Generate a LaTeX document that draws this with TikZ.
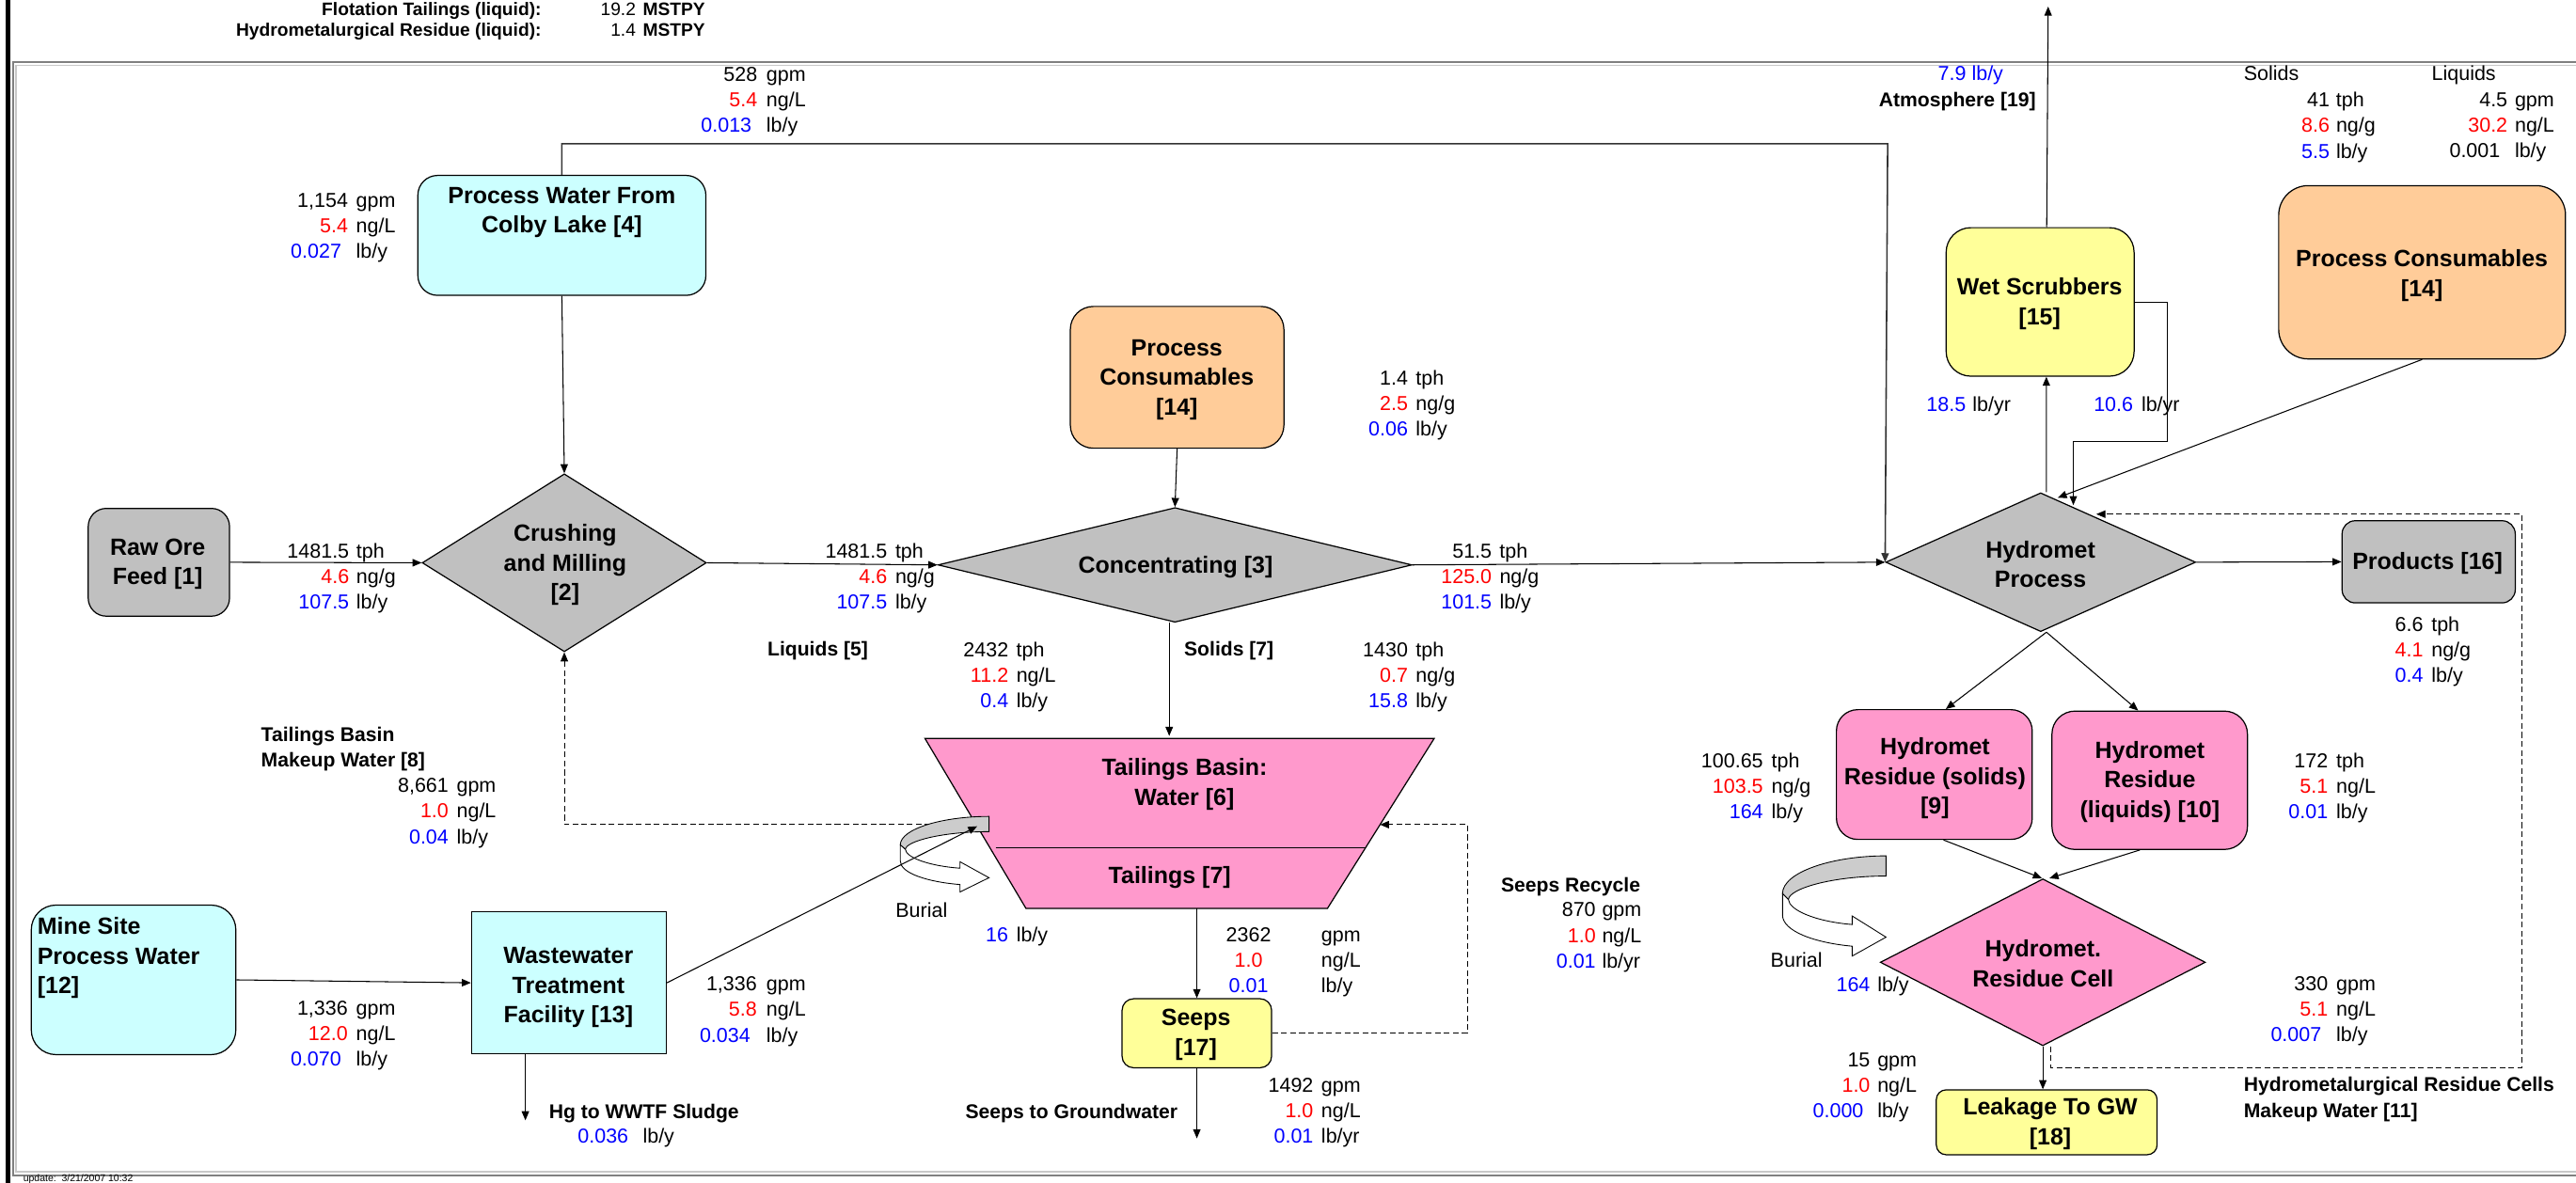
\documentclass[tikz,border=0pt]{standalone}
\usepackage{fontspec}
\setmainfont{Liberation Sans}
\usetikzlibrary{arrows.meta,shapes.geometric}
\definecolor{vred}{RGB}{255,0,0}
\definecolor{vblue}{RGB}{0,0,255}
\definecolor{cyanbox}{RGB}{204,255,255}
\definecolor{graybox}{RGB}{192,192,192}
\definecolor{peach}{RGB}{255,204,153}
\definecolor{pinkbox}{RGB}{255,153,204}
\definecolor{yelbox}{RGB}{255,255,153}
\definecolor{framedark}{RGB}{128,128,128}
\definecolor{framelight}{RGB}{200,200,200}
\newcommand\R[1]{\textcolor{vred}{#1}}
\newcommand\B[1]{\textcolor{vblue}{#1}}
\newcommand\qrow[3]{\makebox[0pt][r]{#2}\hspace{#1pt}\makebox[0pt][l]{#3}}
\newcommand\crow[3]{\makebox[0pt][c]{#2}\hspace{#1pt}\makebox[0pt][l]{#3}}
\newcommand\qblk[7]{\qrow{#1}{#2}{#3}\\\qrow{#1}{\R{#4}}{#5}\\\qrow{#1}{\B{#6}}{#7}}
\newcommand\fnum{\fontsize{12.3}{15.5}\selectfont}
\newcommand\fbig{\fontsize{14.3}{18}\selectfont\bfseries}
\newcommand\fsml{\fontsize{12.1}{16}\selectfont\bfseries}
\newcommand\fhead{\fontsize{11}{13}\selectfont\bfseries}
\newcommand\burialshape{%
  \filldraw[fill=gray!40, line width=0.5pt] (63,0) .. controls (30,0) and (0,10) .. (0,23)
     -- (3.6,26.6) .. controls (4,20) and (30,12.3) .. (63,12.3) -- cycle;
  \filldraw[fill=white, line width=0.5pt] (0,23) -- (0,36) .. controls (0,46) and (20,53) .. (42.4,55)
     -- (42.4,61) -- (63,49.5) -- (42.4,36.6) -- (42.4,41.8)
     .. controls (20,40) and (4,33) .. (3.6,26.6) -- cycle;}
\tikzset{
  box/.style={draw, line width=0.7pt, rounded corners=#1, inner sep=0pt},
  dia/.style={draw, diamond, line width=0.7pt, inner sep=0pt},
  lbl/.style={font=\fbig, align=center, inner sep=0pt},
  num/.style={font=\fnum, align=left, inner sep=0pt},
  sl/.style={font=\fsml, align=left, inner sep=0pt},
  arr/.style={-{Triangle[length=5.5pt,width=4.5pt]}, line width=0.6pt},
  dsh/.style={dash pattern=on 3.5pt off 2pt, line width=0.6pt},
}
\begin{document}
\begin{tikzpicture}[x=1pt,y=-1pt]
\useasboundingbox (0,0) rectangle (1568,720);
% frame
\draw[line width=2.9pt] (5.1,-5) -- (5.1,725);
\draw[framedark, line width=1.1pt] (1590,37.8) -- (7.8,37.8) -- (7.8,715.4) -- (1590,715.4);
\draw[framelight, line width=1.1pt] (1590,39.8) -- (9.8,39.8) -- (9.8,713.4) -- (1590,713.4);
% header
\node[sl, font=\fhead, anchor=base east] (h1) at (329.7,9.2) {Flotation Tailings (liquid):};
\node[sl, font=\fhead, anchor=base east] (h2) at (329.7,21.8) {Hydrometalurgical Residue (liquid):};
\node[anchor=base, inner sep=0pt, font=\fontsize{11}{13}\selectfont] (h1v) at (389.15,9.2) {\qrow{4.3}{19.2}{\textbf{MSTPY}}};
\node[anchor=base, inner sep=0pt, font=\fontsize{11}{13}\selectfont] (h2v) at (389.15,21.8) {\qrow{4.3}{1.4}{\textbf{MSTPY}}};
\node[anchor=base west, inner sep=0pt, font=\fontsize{6}{7}\selectfont] (upd) at (14,719.5) {update:\ \ 3/21/2007 10:32};

% boxes
\node[box=12, fill=cyanbox, minimum width=175.3pt, minimum height=73pt] (pw) at (342,143.3) {};
\node[lbl] (pwt) at (342,129.3) {Process Water From\\Colby Lake [4]};
\node[box=11, fill=graybox, minimum width=86pt, minimum height=65.6pt] (raw) at (96.7,342.3) {};
\node[lbl] (rawt) at (96,343.3) {Raw Ore\\Feed [1]};
\node[dia, fill=graybox, minimum width=173pt, minimum height=108.3pt] (cr) at (343.5,342.6) {};
\node[lbl] (crt) at (344,344) {Crushing\\and Milling\\{[2]}};
\node[box=14, fill=peach, minimum width=130pt, minimum height=86.3pt] (pc1) at (716.5,229.7) {};
\node[lbl] (pc1t) at (716.3,231.1) {Process\\Consumables\\{[14]}};
\node[dia, fill=graybox, minimum width=288.5pt, minimum height=69.8pt] (cm) at (715.2,343.9) {};
\node[lbl] (cmt) at (715.6,345) {Concentrating [3]};
% tailings basin
\filldraw[fill=pinkbox, line width=0.7pt] (563,449.5) -- (873,449.5) -- (808,553) -- (624.5,553) -- cycle;
\draw[line width=0.8pt] (606,516) -- (831,516);
\node[lbl] (tbt) at (721,477.5) {Tailings Basin:\\Water [6]};
\node[lbl] (tlt) at (712,534) {Tailings [7]};
\coordinate (tbT) at (711.7,448);
\coordinate (tbB) at (728.5,553);
\coordinate (tbR) at (840,502);
\coordinate (tbL) at (594,502);
\coordinate (tbA) at (594.8,503);
\node[box=7, fill=yelbox, minimum width=91pt, minimum height=42pt] (sp) at (728.5,629) {};
\node[lbl] (spt) at (728,630) {Seeps\\{[17]}};
\node[box=15, fill=cyanbox, minimum width=124.5pt, minimum height=91pt] (ms) at (81.3,596.5) {};
\node[lbl, align=left, anchor=west] (mst) at (22.6,583.3) {Mine Site\\Process Water\\{[12]}};
\node[draw, line width=0.7pt, inner sep=0pt, fill=cyanbox, minimum width=118.6pt, minimum height=86.6pt] (ww) at (346.3,598.3) {};
\node[lbl] (wwt) at (346,601.3) {Wastewater\\Treatment\\Facility [13]};
\node[box=15, fill=yelbox, minimum width=114.4pt, minimum height=90.4pt] (ws) at (1241.8,183.8) {};
\node[lbl] (wst) at (1241.5,185) {Wet Scrubbers\\{[15]}};
\node[box=18, fill=peach, minimum width=174.6pt, minimum height=105.5pt] (pc2) at (1474.3,165.75) {};
\node[lbl] (pc2t) at (1474.2,167.8) {Process Consumables\\{[14]}};
\node[dia, fill=graybox, minimum width=188.7pt, minimum height=84.5pt] (hp) at (1242.15,342.25) {};
\node[lbl] (hpt) at (1242,343.4) {Hydromet\\Process};
\node[box=8, fill=graybox, minimum width=105.4pt, minimum height=50pt] (pr) at (1478.3,342) {};
\node[lbl] (prt) at (1477.6,343) {Products [16]};
\node[box=13, fill=pinkbox, minimum width=119.2pt, minimum height=79pt] (rs) at (1177.4,471.5) {};
\node[lbl] (rst) at (1177.8,473.8) {Hydromet\\Residue (solids)\\{[9]}};
\node[box=14, fill=pinkbox, minimum width=119pt, minimum height=84.2pt] (rl) at (1308.5,475) {};
\node[lbl] (rlt) at (1308.6,476) {Hydromet\\Residue\\(liquids) [10]};
\node[dia, fill=pinkbox, minimum width=197.9pt, minimum height=101.6pt] (rc) at (1243.45,585.8) {};
\node[lbl] (rct) at (1243.6,586.5) {Hydromet.\\Residue Cell};
\node[box=6, fill=yelbox, minimum width=134.4pt, minimum height=39.5pt] (lk) at (1245.8,683.2) {};
\node[lbl] (lkt) at (1248,684) {Leakage To GW\\{[18]}};

% dashed connectors
\coordinate (d1) at (1535,650);
\coordinate (d2) at (1276,313);
\draw[dsh, arr] ([xshift=5pt]rc.south) |- (d1) |- (d2);
\coordinate (s1) at (893.4,502);
\draw[dsh, arr] (sp.east) -| (s1) -- (tbR);
\draw[dsh, arr] (tbL) -| (cr.south);

% burial arrows
\begin{scope}[shift={(548,497)}, xscale=0.857, yscale=0.754]
\burialshape
\end{scope}
\begin{scope}[shift={(1085,521)}]
\burialshape
\end{scope}

% solid connectors
\coordinate (k1) at (1149,87.5);
\draw[arr, line width=0.9pt, black!80] (pw.north) |- (k1) -- (hp.west);
\draw[arr] (raw.east) -- (cr.west);
\draw[arr] (pw.south) -- (cr.north);
\draw[arr] (cr.east) -- (cm.west);
\draw[arr] (pc1.south) -- (cm.north);
\draw[arr] ([xshift=-3.5pt]cm.south) -- (tbT);
\draw[arr] (cm.east) -- (hp.west);
\draw[arr] ([xshift=3.5pt]hp.north) -- ([xshift=3.8pt]ws.south);
\coordinate (atm) at (1246.7,4);
\draw[arr] ([xshift=4pt]ws.north) -- (atm);
\coordinate (c1) at (1319,268.5);
\coordinate (c2) at (1262,307.5);
\draw[arr] (ws.east) -| (c1) -| (c2);
\coordinate (hpT) at (1252.5,303);
\draw[arr] (pc2.south) -- (hpT);
\draw[arr] ([xshift=3.5pt]hp.south) -- ([xshift=7pt]rs.north);
\draw[arr] ([xshift=3.5pt]hp.south) -- ([xshift=-7pt]rl.north);
\draw[arr] ([xshift=5.6pt]rs.south) -- ([xshift=-0.5pt]rc.north);
\draw[arr] ([xshift=-6pt]rl.south) -- ([xshift=4pt]rc.north);
\draw[arr] (rc.south) -- (rc.south |- lk.north);
\draw[arr] (hp.east) -- (pr.west);
\draw[arr] (tbB) -- (sp.north);
\coordinate (gw) at (728.5,693);
\draw[arr] (sp.south) -- (gw);
\draw[arr] (ww.east) -- (tbA);
\draw[arr] (ms.east) -- (ww.west);
\coordinate (sl) at (319.8,682);
\draw[arr] (ww.south -| sl) -- (sl);

% data blocks
\node[num] (qA) at (463.75,62) {\qblk{5.5}{528}{gpm}{5.4}{ng/L}{0.013\hspace{3.5pt}}{lb/y}};
\node[num] (qB) at (214.3,138.6) {\qblk{5}{1,154}{gpm}{5.4}{ng/L}{0.027\hspace{4pt}}{lb/y}};
\node[num] (qC) at (214.7,352.2) {\qblk{4.4}{1481.5}{tph}{4.6}{ng/g}{107.5}{lb/y}};
\node[num] (qD) at (542.5,352.2) {\qblk{5}{1481.5}{tph}{4.6}{ng/g}{107.5}{lb/y}};
\node[num] (qF) at (859.4,246.8) {\qblk{4.8}{1.4}{tph}{2.5}{ng/g}{0.06}{lb/y}};
\node[num] (qG) at (910.4,352.2) {\qblk{4.8}{51.5}{tph}{125.0}{ng/g}{101.5}{lb/y}};
\node[num] (qH) at (616.25,411.9) {\qblk{4.9}{2432}{tph}{11.2}{ng/L}{0.4}{lb/y}};
\node[num] (qJ) at (859.4,411.9) {\qblk{4.8}{1430}{tph}{0.7}{ng/g}{15.8}{lb/y}};
\node[num] (qL) at (275.5,495) {\qblk{5}{8,661}{gpm}{1.0}{ng/L}{0.04}{lb/y}};
\node[num] (qM) at (214.25,630.6) {\qblk{5.1}{1,336}{gpm}{12.0}{ng/L}{0.070\hspace{4pt}}{lb/y}};
\node[num] (qN) at (463.6,615.8) {\qblk{5.8}{1,336}{gpm}{5.8}{ng/L}{0.034\hspace{4pt}}{lb/y}};
\node[num] (qS) at (973.25,570.6) {\qblk{3.9}{870}{gpm}{1.0}{ng/L}{0.01}{lb/yr}};
\node[num] (qU) at (801.85,677.2) {\qblk{4.9}{1492}{gpm}{1.0}{ng/L}{0.01}{lb/yr}};
\node[num] (qX) at (1140.55,661.9) {\qblk{4.5}{15}{gpm}{1.0}{ng/L}{0.000\hspace{4pt}}{lb/y}};
\node[num] (qY) at (1419.55,615.4) {\qblk{5.1}{330}{gpm}{5.1}{ng/L}{0.007\hspace{4pt}}{lb/y}};
\node[num] (qAA) at (1075.75,479.75) {\qblk{5.1}{100.65}{tph}{103.5}{ng/g}{164}{lb/y}};
\node[num] (qAB) at (1419.55,479.75) {\qblk{5.1}{172}{tph}{5.1}{ng/L}{0.01}{lb/y}};
\node[num] (qAC) at (1477.5,396.8) {\qblk{5}{6.6}{tph}{4.1}{ng/g}{0.4}{lb/y}};
\node[num] (qSol) at (1420,77.5) {\qblk{4}{41}{tph}{8.6}{ng/g}{5.5}{lb/y}};
\node[num] (qLiq) at (1528.55,77.5) {\qrow{4.5}{4.5}{gpm}\\\qrow{4.5}{\R{30.2}}{ng/L}\\\qrow{4.5}{0.001\hspace{4.5pt}}{lb/y}};
\node[num] (qR) at (782.15,585.8) {\crow{44.3}{2362}{gpm}\\\crow{44.3}{\R{1.0}}{ng/L}\\\crow{44.3}{\B{0.01}}{lb/y}};
% single rows
\node[num, anchor=base] (qO) at (386.9,696.1) {\qrow{8.8}{\B{0.036}}{lb/y}};
\node[num, anchor=base] (qQ) at (616.2,573.4) {\qrow{5}{\B{16}}{lb/y}};
\node[num, anchor=base] (qW) at (1140.55,603.5) {\qrow{4.5}{\B{164}}{lb/y}};
\node[num, anchor=base] (qAD) at (1198.65,250.2) {\qrow{4.1}{\B{18.5}}{lb/yr}};
\node[num, anchor=base] (qAE) at (1300.95,250.2) {\qrow{5.1}{\B{10.6}}{lb/yr}};
% labels
\node[sl, anchor=base west] (lO) at (334,680.8) {Hg to WWTF Sludge};
\node[sl, anchor=base west] (lT) at (587.5,680.8) {Seeps to Groundwater};
\node[sl, anchor=base west] (lS) at (913.5,543) {Seeps Recycle};
\node[sl, anchor=base west] (lE) at (467,399.4) {Liquids [5]};
\node[sl, anchor=base west] (lI) at (720.6,399.4) {Solids [7]};
\node[sl, anchor=west] (lK) at (158.8,456) {Tailings Basin\\Makeup Water [8]};
\node[sl, anchor=west] (lZ) at (1365.6,669.3) {Hydrometalurgical Residue Cells\\Makeup Water [11]};
\node[sl, anchor=base west] (lAtm) at (1143.5,65.1) {Atmosphere [19]};
\node[num, anchor=base west] (l79) at (1179.5,49.2) {\B{7.9 lb/y}};
\node[num, anchor=base west] (lSol) at (1365.6,49.2) {Solids};
\node[num, anchor=base west] (lLiq) at (1480,49.2) {Liquids};
\node[num, anchor=base west] (lBur1) at (545,558.7) {Burial};
\node[num, anchor=base west] (lBur2) at (1077.6,588.7) {Burial};
\end{tikzpicture}
\end{document}
